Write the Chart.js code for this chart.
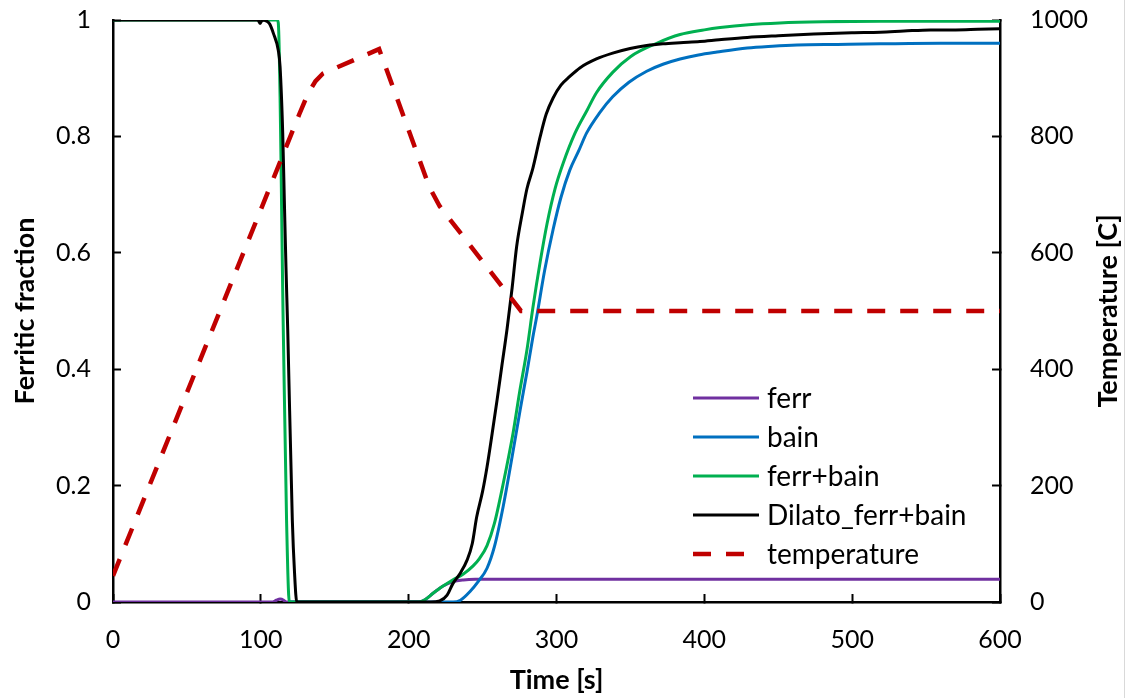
<!DOCTYPE html>
<html><head><meta charset="utf-8">
<script src="https://cdn.jsdelivr.net/npm/chart.js@4/dist/chart.umd.min.js"></script>
<style>html,body{margin:0;padding:0;background:#fff;overflow:hidden}</style>
</head><body>
<canvas id="c" width="1128" height="698"></canvas>
<script>
// ---- data ----
const seriesNames = ['ferr', 'bain', 'ferr+bain', 'Dilato_ferr+bain', 'temperature'];
const xTicks = [0, 100, 200, 300, 400, 500, 600];
const yLeftTicks = [0, 0.2, 0.4, 0.6, 0.8, 1];
const yRightTicks = [0, 200, 400, 600, 800, 1000];

const ferrTime = [0, 108, 110.5, 113, 115.5, 117, 207, 211, 216.5, 223, 230, 237, 245, 600];
const ferrVal  = [0, 0, 0.003, 0.005, 0.003, 0, 0, 0.004, 0.015, 0.027, 0.035, 0.038, 0.039, 0.039];

const bainTime = [119, 230, 235, 241.5, 247, 253, 258, 264, 270, 275.4, 280, 284, 286.6, 292, 297.7, 303, 309, 315, 320.4, 329, 338, 349, 361, 372, 383.6, 396, 408.6, 429, 446, 462.7, 490, 519, 560, 600];
const bainVal  = [0, 0, 0.003, 0.018, 0.035, 0.058, 0.095, 0.165, 0.25, 0.33, 0.395, 0.455, 0.49, 0.57, 0.64, 0.695, 0.742, 0.775, 0.806, 0.84, 0.868, 0.893, 0.912, 0.924, 0.933, 0.94, 0.945, 0.952, 0.955, 0.957, 0.958, 0.959, 0.96, 0.96];

const ferrBainTime = [0, 111, 111.8, 115.2, 117.4, 119.3, 207, 211, 216.5, 223, 230, 237, 243.6, 248, 253, 258, 264, 270.6, 275, 280, 284, 289, 293.6, 299, 304.5, 312.6, 320.7, 327, 338, 350, 367.8, 383.6, 400, 410.7, 430, 451, 480, 519, 600];
const ferrBainVal  = [1, 1, 0.995, 0.467, 0.141, 0, 0, 0.004, 0.015, 0.027, 0.038, 0.048, 0.062, 0.075, 0.097, 0.135, 0.204, 0.29, 0.36, 0.433, 0.505, 0.585, 0.65, 0.71, 0.754, 0.806, 0.845, 0.875, 0.91, 0.937, 0.96, 0.975, 0.983, 0.987, 0.992, 0.995, 0.997, 0.998, 0.998];

const dilatoTime = [0, 98, 99.5, 101, 104, 106, 108.5, 111.8, 113, 114.8, 115.9, 117, 118.2, 121.3, 122.8, 124.3, 215, 221, 226, 230, 235, 239.5, 243, 246, 250, 253, 256.5, 259.8, 263, 266.6, 270, 273, 277, 280, 284, 289, 293, 297.7, 303, 309, 316, 327, 338, 349.8, 361, 372, 383.6, 397, 410, 429, 450, 474, 500, 519, 535, 553, 570, 585, 600];
const dilatoVal  = [1, 1, 0.994, 1, 0.998, 0.993, 0.977, 0.948, 0.92, 0.806, 0.69, 0.576, 0.467, 0.141, 0.05, 0, 0, 0.002, 0.012, 0.032, 0.05, 0.072, 0.1, 0.146, 0.19, 0.232, 0.29, 0.347, 0.405, 0.47, 0.54, 0.61, 0.67, 0.71, 0.745, 0.8, 0.838, 0.866, 0.888, 0.903, 0.918, 0.933, 0.943, 0.951, 0.956, 0.959, 0.961, 0.963, 0.966, 0.97, 0.973, 0.976, 0.978, 0.979, 0.981, 0.983, 0.983, 0.984, 0.985];

const tempTime = [0, 120, 126, 132, 137, 142, 180, 214, 221, 276, 600];
const tempVal  = [45, 800, 838, 874, 895, 908, 950, 713, 680, 500, 500];

// ---- build ----
const FONT = 'Lato, "Open Sans", sans-serif';
const zip = (t, v) => t.map((x, i) => ({x: x, y: v[i]}));
const colors = ['#7030A0', '#0070C0', '#00B050', '#000000', '#C00000'];

const datasets = [
  {label: seriesNames[0], data: zip(ferrTime, ferrVal), borderColor: colors[0], yAxisID: 'y', order: 4},
  {label: seriesNames[1], data: zip(bainTime, bainVal), borderColor: colors[1], yAxisID: 'y', order: 3},
  {label: seriesNames[2], data: zip(ferrBainTime, ferrBainVal), borderColor: colors[2], yAxisID: 'y', order: 2},
  {label: seriesNames[3], data: zip(dilatoTime, dilatoVal), borderColor: colors[3], yAxisID: 'y', order: 1},
  {label: seriesNames[4], data: zip(tempTime, tempVal), borderColor: colors[4], yAxisID: 'y2', order: 0,
   borderDash: [18, 15], borderWidth: 4.5, cubicInterpolationMode: 'default', tension: 0}
].map(d => Object.assign({borderWidth: 3, pointRadius: 0, fill: false, cubicInterpolationMode: 'monotone', borderCapStyle: 'butt'}, d));

const legendPlugin = {
  id: 'insideLegend',
  afterDraw(chart) {
    const ctx = chart.ctx;
    ctx.save();
    const x0 = 693, x1 = 759, tx = 767, y0 = 398, dy = 39;
    ctx.font = '28px ' + FONT;
    ctx.textBaseline = 'middle';
    ctx.textAlign = 'left';
    chart.data.datasets.forEach((ds, i) => {
      const y = y0 + i * dy;
      ctx.beginPath();
      ctx.strokeStyle = ds.borderColor;
      ctx.lineWidth = ds.borderWidth;
      ctx.lineCap = 'butt';
      ctx.setLineDash(ds.borderDash || []);
      ctx.moveTo(x0, y); ctx.lineTo(x1, y);
      ctx.stroke();
      ctx.setLineDash([]);
      ctx.fillStyle = '#000';
      ctx.fillText(ds.label, tx, y + 1);
    });
    // right axis title (reads bottom-to-top)
    ctx.save();
    ctx.translate(1108, 311);
    ctx.rotate(-Math.PI / 2);
    ctx.textAlign = 'center';
    ctx.font = 'bold 27px ' + FONT;
    ctx.fillText('Temperature [C]', 0, 0);
    ctx.restore();
    // faint frame edge on the right
    ctx.strokeStyle = '#d9d9d9';
    ctx.lineWidth = 1;
    ctx.beginPath();
    ctx.moveTo(1124.5, 0); ctx.lineTo(1124.5, 698);
    ctx.stroke();
    ctx.restore();
  }
};

const tickFont = {family: FONT, size: 25};
const titleFont = {family: FONT, size: 27, weight: 'bold'};
const gridOpts = {drawOnChartArea: false, drawTicks: true, tickLength: -8, tickWidth: 2, tickColor: '#000'};
const borderOpts = {display: true, color: '#000', width: 2.5};
const fixV = w => s => { s.width = w; s.paddingTop = 0; s.paddingBottom = 0; };
const fixH = h => s => { s.height = h; s.paddingLeft = 0; s.paddingRight = 0; };

new Chart(document.getElementById('c'), {
  type: 'line',
  data: {datasets: datasets},
  plugins: [legendPlugin],
  options: {
    responsive: false,
    animation: false,
    events: [],
    layout: {padding: {top: 20, left: 0, right: 0, bottom: 0}},
    plugins: {legend: {display: false}, tooltip: {enabled: false}},
    scales: {
      x: {
        type: 'linear', position: 'bottom', min: 0, max: 600,
        afterBuildTicks: s => { s.ticks = xTicks.map(v => ({value: v})); },
        ticks: {font: tickFont, color: '#000', padding: 31, maxRotation: 0, callback: v => String(v)},
        grid: gridOpts, border: borderOpts,
        title: {display: true, text: 'Time [s]', font: titleFont, color: '#000', padding: {top: 0, bottom: 2}},
        afterFit: fixH(96)
      },
      y: {
        type: 'linear', position: 'left', min: 0, max: 1,
        afterBuildTicks: s => { s.ticks = yLeftTicks.map(v => ({value: v})); },
        ticks: {font: tickFont, color: '#000', padding: 30, callback: v => String(v)},
        grid: gridOpts, border: borderOpts,
        title: {display: true, text: 'Ferritic fraction', font: titleFont, color: '#000', padding: {top: 9, bottom: 0}},
        afterFit: fixV(113)
      },
      y2: {
        type: 'linear', position: 'right', min: 0, max: 1000,
        afterBuildTicks: s => { s.ticks = yRightTicks.map(v => ({value: v})); },
        ticks: {font: tickFont, color: '#000', padding: 38, callback: v => String(v)},
        grid: gridOpts, border: borderOpts,
        title: {display: false},
        afterFit: fixV(128)
      }
    }
  }
});
</script>
</body></html>
